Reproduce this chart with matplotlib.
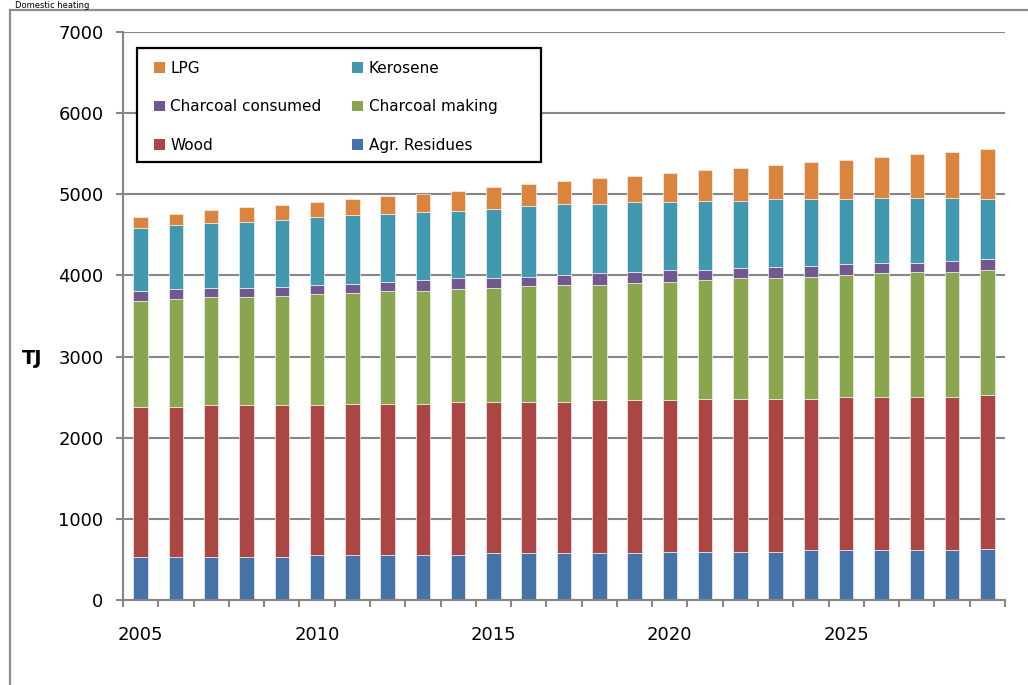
import numpy as np
import matplotlib
matplotlib.use('Agg')
import matplotlib.pyplot as plt
from matplotlib.patches import Patch, Rectangle

# data (stacked, bottom to top)
years = list(range(2005, 2030))
agr_residues = [527, 527, 527, 527, 527, 551, 551, 551, 551, 551, 575, 575, 575,
                575, 575, 588, 588, 588, 588, 612, 612, 612, 612, 612, 628]
wood = [1856, 1856, 1880, 1880, 1880, 1856, 1869, 1869, 1869, 1893, 1869, 1869, 1869,
        1890, 1890, 1877, 1893, 1893, 1893, 1869, 1894, 1894, 1894, 1894, 1898]
charcoal_making = [1302, 1327, 1323, 1323, 1340, 1360, 1363, 1384, 1384, 1385, 1405, 1422, 1438,
                   1417, 1442, 1458, 1463, 1484, 1484, 1504, 1499, 1520, 1536, 1536, 1537]
charcoal_consumed = [119, 119, 115, 115, 114, 115, 115, 119, 136, 136, 116, 119, 120,
                     144, 139, 139, 118, 123, 135, 135, 140, 131, 115, 140, 140]
kerosene = [777, 793, 797, 817, 818, 838, 843, 838, 838, 834, 858, 875, 882,
            858, 855, 839, 855, 829, 838, 818, 793, 801, 801, 776, 735]
lpg = [139, 139, 161, 181, 189, 181, 201, 222, 226, 242, 263, 263, 280,
       321, 325, 361, 382, 403, 423, 464, 485, 502, 543, 563, 620]

series = [('Agr. Residues', agr_residues, '#4572A7'),
          ('Wood', wood, '#AA4643'),
          ('Charcoal making', charcoal_making, '#89A54E'),
          ('Charcoal consumed', charcoal_consumed, '#71588F'),
          ('Kerosene', kerosene, '#4198AF'),
          ('LPG', lpg, '#DB843D')]

fig = plt.figure(figsize=(10.28, 6.85), dpi=100)
ax = fig.add_axes([123 / 1028, 1 - 600 / 685, (1005 - 123) / 1028, (600 - 32) / 685])

x = np.arange(len(years))
bottom = np.zeros(len(years))
for name, vals, col in series:
    ax.bar(x, vals, width=0.41, bottom=bottom, color=col,
           edgecolor='#f0f0f0', linewidth=0.5, zorder=3)
    bottom = bottom + np.array(vals)

grey = '#868686'
ax.set_ylim(0, 7000)
ax.set_xlim(-0.5, len(years) - 0.5)
ax.set_yticks(range(0, 7001, 1000))
ax.yaxis.grid(True, color=grey, linewidth=1.5, zorder=0)
ax.tick_params(axis='y', labelsize=13, length=5, width=1.5, color=grey, pad=9)

# category boundary ticks, labels every 5 years at bar centres
ax.set_xticks(np.arange(-0.5, len(years), 1.0))
ax.set_xticklabels([])
ax.tick_params(axis='x', which='major', length=5, width=1.5, color=grey)
lab_pos = [i for i, y in enumerate(years) if y % 5 == 0]
ax.set_xticks(lab_pos, minor=True)
ax.set_xticklabels([str(years[i]) for i in lab_pos], minor=True)
ax.tick_params(axis='x', which='minor', length=0, labelsize=13, pad=19)

for s in ['top', 'right']:
    ax.spines[s].set_visible(False)
for s in ['left', 'bottom']:
    ax.spines[s].set_color(grey)
    ax.spines[s].set_linewidth(1.5)
    ax.spines[s].set_zorder(4)

# legend (order as in the reference box)
order = ['LPG', 'Charcoal consumed', 'Wood', 'Kerosene', 'Charcoal making', 'Agr. Residues']
cmap = {n: c for n, v, c in series}
handles = [Patch(facecolor=cmap[n], edgecolor='none', label=n) for n in order]
leg = fig.legend(handles=handles, ncol=2, loc='upper left',
                 bbox_to_anchor=(148 / 1028, 1 - 55 / 685), frameon=False,
                 fontsize=11, handlelength=0.72, handleheight=0.72, handletextpad=0.35,
                 labelspacing=1.52, columnspacing=2.0, borderaxespad=0)
fig.patches.append(Rectangle((137 / 1028, 1 - 162 / 685), 404 / 1028, 114 / 685,
                             transform=fig.transFigure, fill=True, facecolor='white',
                             edgecolor='black', linewidth=1.6, zorder=1))
leg.set_zorder(5)

# outer chart frame, small title above it and unit label
fig.add_artist(plt.Line2D([10 / 1028, 10 / 1028], [0, 1 - 10 / 685], color='#8c8c8c',
                          linewidth=1.6, transform=fig.transFigure))
fig.add_artist(plt.Line2D([10 / 1028, 1], [1 - 10 / 685, 1 - 10 / 685], color='#8c8c8c',
                          linewidth=1.6, transform=fig.transFigure))
fig.text(15 / 1028, 1 - 1 / 685, 'Domestic heating', fontsize=6, va='top', ha='left')
fig.text(32 / 1028, 1 - 358 / 685, 'TJ', fontsize=14, fontweight='bold',
         va='center', ha='center')

fig.savefig('out.png', dpi=100)
